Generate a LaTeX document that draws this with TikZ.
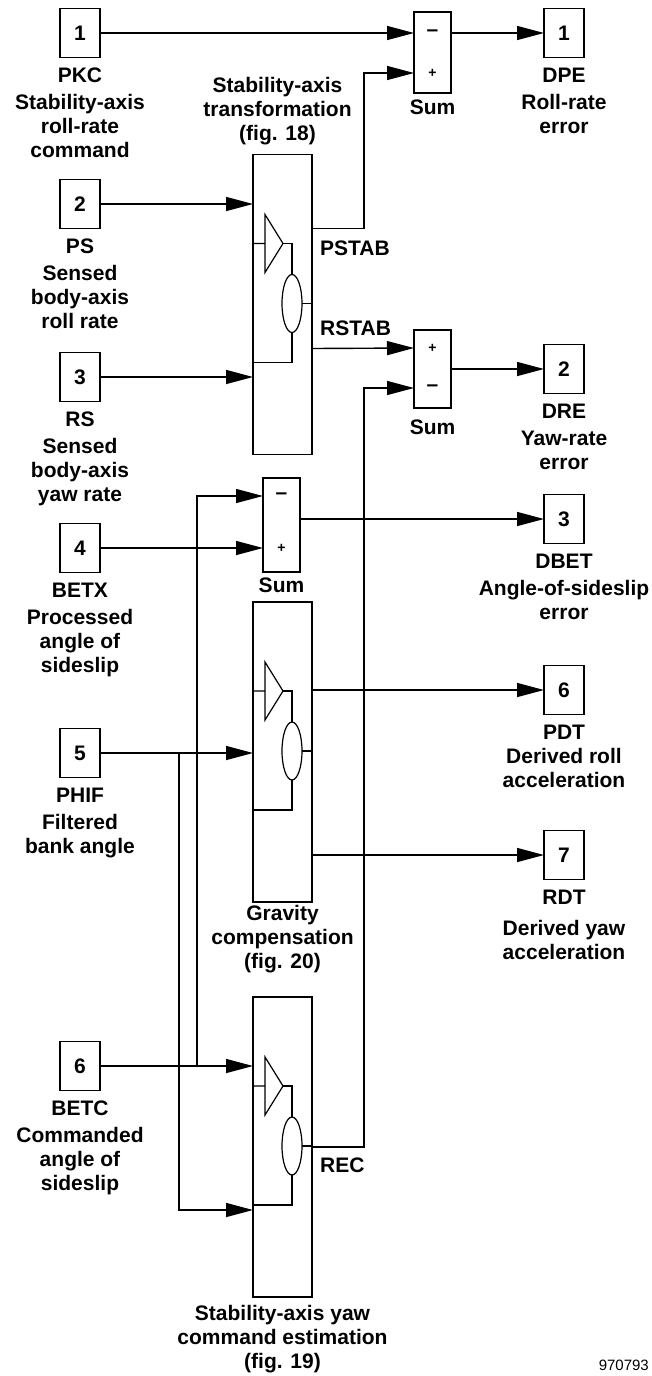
\documentclass[tikz,border=0pt]{standalone}
\usepackage{fontspec}
\setmainfont{Liberation Sans}
\usepackage{tikz}
\usetikzlibrary{arrows.meta,positioning,calc}
\tikzset{
  portbox/.style={rectangle,draw,line width=1.8pt,minimum width=40pt,minimum height=49pt,
    inner sep=0pt,outer sep=0pt,font=\fontsize{21}{24}\selectfont\bfseries},
  sumbox/.style={rectangle,draw,line width=1.8pt,minimum width=37pt,inner sep=0pt,outer sep=0pt},
  subsys/.style={rectangle,draw,line width=1.8pt,minimum width=59pt,minimum height=300pt,
    inner sep=0pt,outer sep=0pt},
  lbl/.style={align=center,inner sep=0pt,font=\fontsize{21}{24}\selectfont\bfseries},
  sig/.style={inner sep=0pt,text height=15pt,text depth=0pt,font=\fontsize{21}{24}\selectfont\bfseries},
  sgn/.style={inner sep=0pt,font=\fontsize{14}{14}\selectfont\bfseries},
  wire/.style={line width=1.4pt},
  arrow/.style={wire,-{Triangle[length=27pt,width=14pt]}},
  guts/.style={line width=1.2pt},
}
% amplifier and summer drawn inside a subsystem block
\newcommand\blockguts[1]{%
  \draw[guts] ($(#1.north west)+(0,-89)$) -- ++(12,0) ++(0,29) -- ++(0,-58) -- ++(18,29) -- cycle;
  \draw[guts] ($(#1.north west)+(30,-89)$) -- ++(9,0) -- ++(0,-31);
  \draw[guts] ($(#1.north west)+(39,-149)$) ellipse [x radius=10pt, y radius=29pt];
  \draw[guts] ($(#1.north west)+(49,-149)$) -- ($(#1.north east)+(0,-149)$);
  \draw[guts] ($(#1.north west)+(39,-178)$) -- ++(0,-30) -- ++(-39,0);
}

\begin{document}
\begin{tikzpicture}[x=1pt,y=1pt]
  \useasboundingbox (0,0) rectangle (652,-1376);
  % inputs
  \node[portbox] (in1) at (80,-33) {1};
  \node[portbox] (in2) at (80,-204) {2};
  \node[portbox] (in3) at (80,-377) {3};
  \node[portbox] (in4) at (80,-548) {4};
  \node[portbox] (in5) at (80,-753) {5};
  \node[portbox] (in6) at (80,-1066) {6};
  \node[lbl, below=10pt of in1] (in1lbl) {PKC\\[3pt]Stability-axis\\roll-rate\\command};
  \node[lbl, below=10pt of in2] (in2lbl) {PS\\[3pt]Sensed\\body-axis\\roll rate};
  \node[lbl, below=10pt of in3] (in3lbl) {RS\\[3pt]Sensed\\body-axis\\yaw rate};
  \node[lbl, below=10pt of in4] (in4lbl) {BETX\\[3pt]Processed\\angle of\\sideslip};
  \node[lbl, below=10pt of in5] (in5lbl) {PHIF\\[3pt]Filtered\\bank angle};
  \node[lbl, below=10pt of in6] (in6lbl) {BETC\\[3pt]Commanded\\angle of\\sideslip};
  % outputs
  \node[portbox] (out1) at (564,-33) {1};
  \node[portbox] (out2) at (564,-369) {2};
  \node[portbox] (out3) at (564,-519) {3};
  \node[portbox] (out6) at (564,-690) {6};
  \node[portbox] (out7) at (564,-855) {7};
  \node[lbl, below=10pt of out1] (out1lbl) {DPE\\[3pt]Roll-rate\\error};
  \node[lbl, below=10pt of out2] (out2lbl) {DRE\\[3pt]Yaw-rate\\error};
  \node[lbl, below=10pt of out3] (out3lbl) {DBET\\[3pt]Angle-of-sideslip\\error};
  \node[lbl, below=10pt of out6] (out6lbl) {PDT\\Derived roll\\acceleration};
  \node[lbl, below=10pt of out7] (out7lbl) {RDT\\[7pt]Derived yaw\\acceleration};
  % summing junctions
  \node[sumbox, minimum height=81pt] (sum1) at (432.5,-52.5) {};
  \node[sumbox, minimum height=78pt] (sum2) at (432.5,-369) {};
  \node[sumbox, minimum height=94pt] (sum3) at (281.5,-525) {};
  \node[sgn] (s1m) at (432.5,-33) {\fontsize{21}{21}\selectfont\textendash};
  \node[sgn] (s1p) at (432.5,-73) {+};
  \node[sgn] (s2p) at (432.5,-348) {+};
  \node[sgn] (s2m) at (432.5,-388) {\fontsize{21}{21}\selectfont\textendash};
  \node[sgn] (s3m) at (281.5,-496) {\fontsize{21}{21}\selectfont\textendash};
  \node[sgn] (s3p) at (281.5,-548) {+};
  \node[lbl, below=7pt of sum1] (sum1lbl) {Sum};
  \node[lbl, below=12pt of sum2] (sum2lbl) {Sum};
  \node[lbl, below=6pt of sum3] (sum3lbl) {Sum};
  % subsystems
  \node[subsys] (blk1) at (282.5,-304.5) {};
  \node[subsys] (blk2) at (282.5,-752) {};
  \node[subsys] (blk3) at (282.5,-1147) {};
  \blockguts{blk1}
  \blockguts{blk2}
  \blockguts{blk3}
  \node[lbl, above=9pt of blk1, xshift=-5pt] (blk1lbl) {Stability-axis\\transformation\\(fig. 18)};
  \node[lbl, below=3.5pt of blk2] (blk2lbl) {Gravity\\compensation\\(fig. 20)};
  \node[lbl, below=8pt of blk3] (blk3lbl) {Stability-axis yaw\\command estimation\\(fig. 19)};
  \coordinate (pstab) at ($(blk1.north east)+(0,-74)$);
  \coordinate (rstab) at ($(blk1.north east)+(0,-194)$);
  \coordinate (b3in2) at ($(blk3.north west)+(0,-213)$);
  \coordinate (jb) at ($(in6.east)+(97,0)$);
  \coordinate (jp) at ($(in5.east)+(79,0)$);
  \node[sig, anchor=north west] (pstablbl) at ($(pstab)+(8,-11.5)$) {PSTAB};
  \node[sig, anchor=south west] (rstablbl) at ($(rstab)+(8,12.5)$) {RSTAB};
  \node[sig, anchor=north west] (reclbl) at ($(blk3.east)+(8,-10.5)$) {REC};
  % connections
  \draw[arrow] (in1.east) -- (s1m -| sum1.west);
  \draw[arrow] (pstab) -- ++(52,0) |- (s1p -| sum1.west);
  \draw[arrow] (s1m -| sum1.east) -- (out1.west);
  \draw[arrow] (in2.east) -- (in2 -| blk1.west);
  \draw[arrow] (in3.east) -- (in3 -| blk1.west);
  \draw[arrow] (rstab) -- (s2p -| sum2.west);
  \draw[arrow] (blk3.east) -- ++(52,0) |- (s2m -| sum2.west);
  \draw[arrow] (sum2.east) -- (out2.west);
  \draw[arrow] (in4.east) -- (s3p -| sum3.west);
  \draw[arrow] (jb) |- (s3m -| sum3.west);
  \draw[arrow] (out3 -| sum3.east) -- (out3.west);
  \draw[arrow] (in5.east) -- (in5 -| blk2.west);
  \draw[arrow] (out6 -| blk2.east) -- (out6.west);
  \draw[arrow] (out7 -| blk2.east) -- (out7.west);
  \draw[arrow] (in6.east) -- (in6 -| blk3.west);
  \draw[arrow] (jp) |- (b3in2);
  \node[anchor=east, inner sep=0pt, font=\fontsize{15}{15}\selectfont] (fignum) at (649,-1365) {970793};
\end{tikzpicture}
\end{document}
